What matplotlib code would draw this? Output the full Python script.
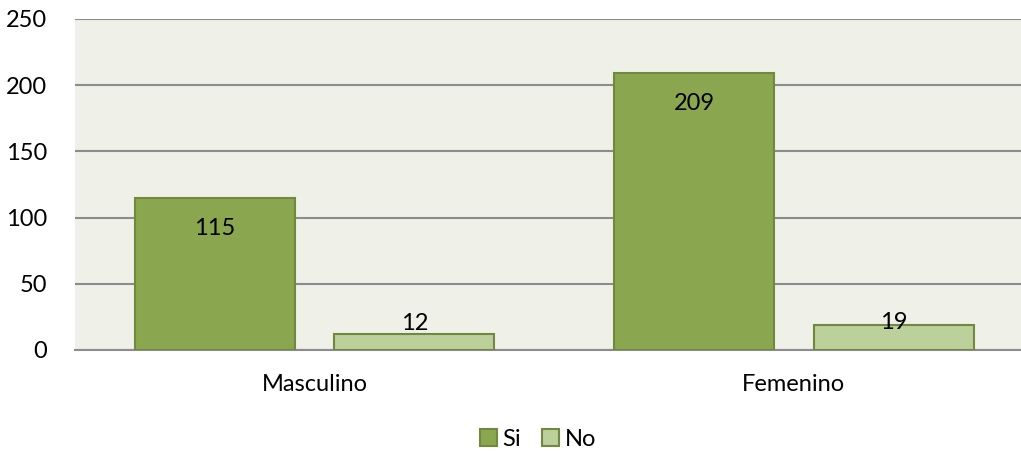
import matplotlib
matplotlib.use("Agg")
import matplotlib.pyplot as plt
import numpy as np

categories = ["Masculino", "Femenino"]
series_names = ["Si", "No"]
si_values = [115, 209]
no_values = [12, 19]
yticks = [0, 50, 100, 150, 200, 250]

plt.rcParams['font.family'] = ['Lato', 'DejaVu Sans']
FS = 17

fig = plt.figure(figsize=(10.21, 4.55), dpi=100)
ax = fig.add_axes([0.0735, 0.2308, 0.9265, 0.7275])
ax.set_facecolor('#EFF1E8')

x = np.arange(len(categories))
w = 0.334
off = 0.208
edge = '#71893F'
b1 = ax.bar(x - off, si_values, w, color='#8AA64E', edgecolor=edge, linewidth=1.5, label=series_names[0], zorder=3)
b2 = ax.bar(x + off, no_values, w, color='#BBD09A', edgecolor=edge, linewidth=1.5, label=series_names[1], zorder=3)

# data labels
for xi, v in zip(x - off, si_values):
    ax.annotate(str(v), (xi, v), xytext=(0, -22), textcoords='offset points',
                ha='center', va='center', fontsize=FS, color='black', zorder=4)
no_offsets = [7.5, 1.5]
for xi, v, o in zip(x + off, no_values, no_offsets):
    ax.annotate(str(v), (xi, v), xytext=(0, o), textcoords='offset points',
                ha='center', va='center', fontsize=FS, color='black', zorder=4)

ax.set_xlim(-0.5, 1.474)
ax.set_ylim(0, 250)
ax.set_yticks(yticks)
ax.set_yticklabels([str(t) for t in yticks], fontsize=FS)
ax.set_xticks(x)
ax.set_xticklabels(categories, fontsize=FS)
ax.tick_params(axis='both', length=0)
ax.tick_params(axis='y', pad=20)
ax.tick_params(axis='x', pad=17)
ax.yaxis.grid(True, color='#8C8C8C', linewidth=1.5, zorder=1)
ax.set_axisbelow(True)
for s in ['top', 'right', 'left']:
    ax.spines[s].set_visible(False)
ax.spines['bottom'].set_color('#8C8C8C')
ax.spines['bottom'].set_linewidth(1.5)

fig.legend(handles=[b1, b2], labels=series_names, loc='center', bbox_to_anchor=(0.527, 0.035),
           ncol=2, frameon=False, fontsize=FS, handlelength=0.7, handleheight=0.7,
           handletextpad=0.25, columnspacing=0.9)

fig.savefig('out.png', dpi=100)
